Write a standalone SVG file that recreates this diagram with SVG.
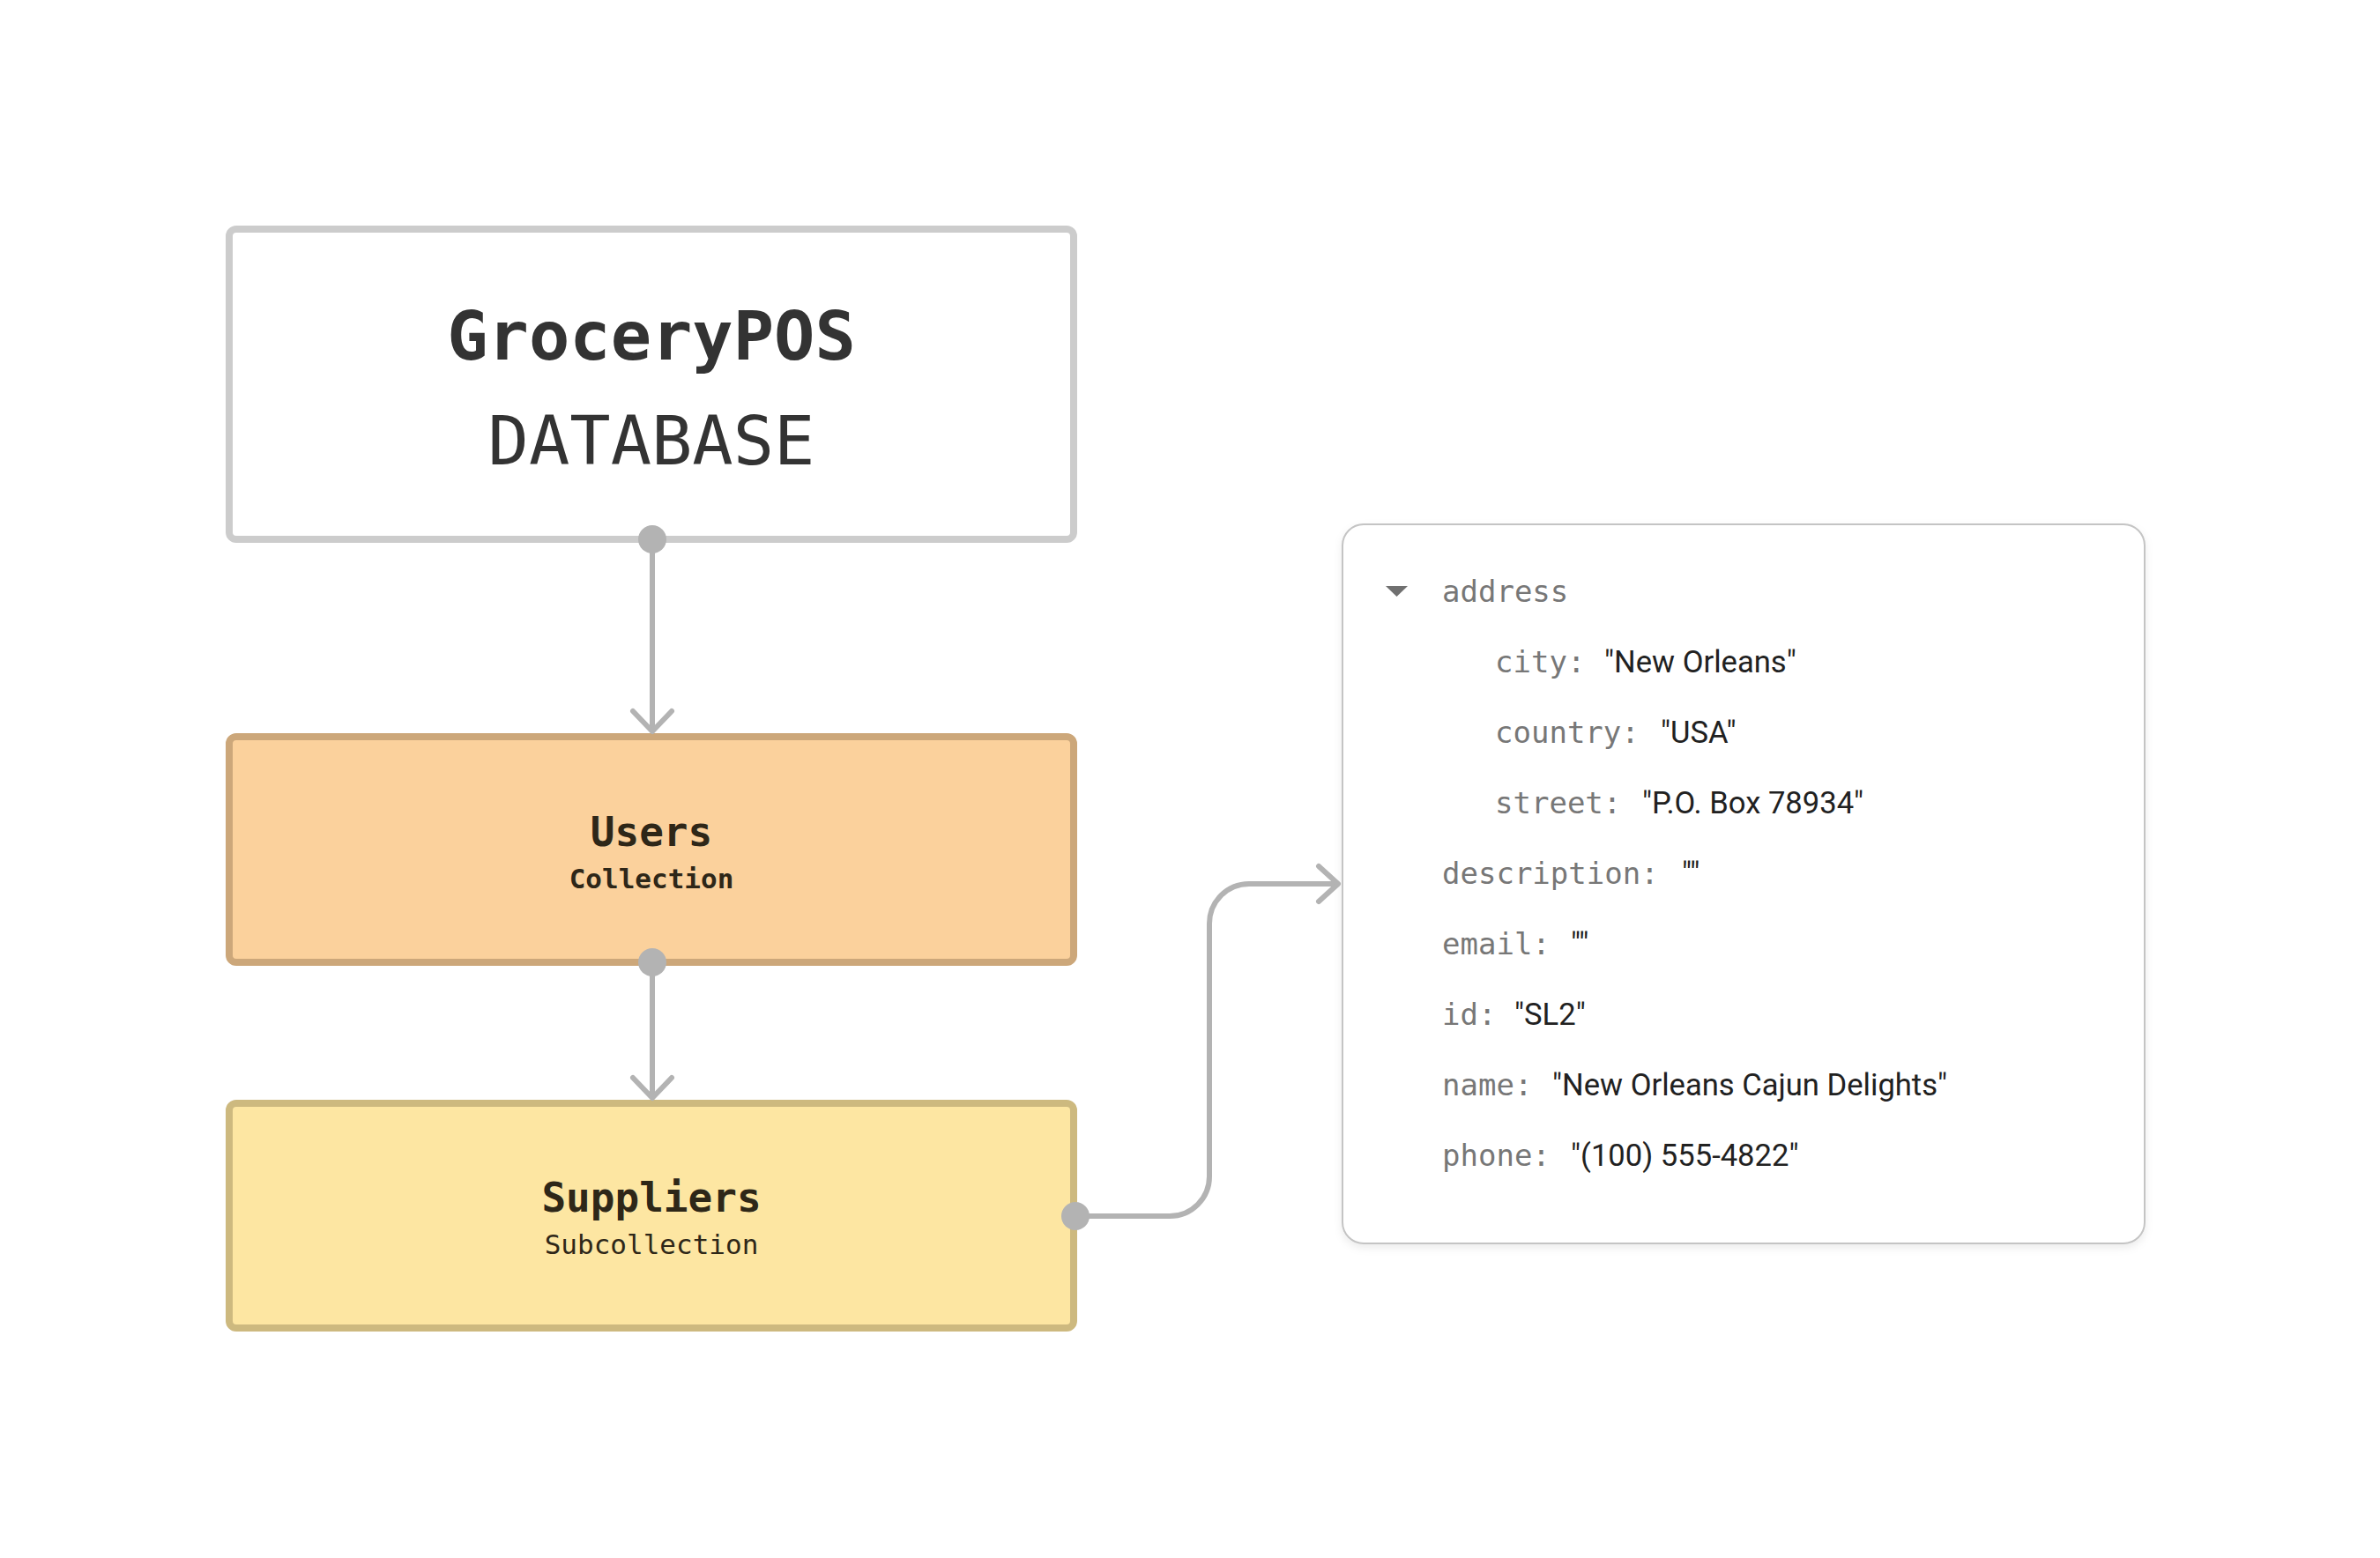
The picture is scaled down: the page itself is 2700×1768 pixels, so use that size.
<svg xmlns="http://www.w3.org/2000/svg" width="2700" height="1768" viewBox="0 0 2700 1768">
  <defs>
    <style>
      .mono { font-family: "DejaVu Sans Mono", "Liberation Mono", monospace; }
      .title { font-size: 77px; font-weight: bold; fill: #333333; }
      .subtitle { font-size: 77px; font-weight: normal; fill: #333333; }
      .nodeName { font-size: 46px; font-weight: bold; fill: #2e2718; }
      .nodeType { font-size: 31px; fill: #2e2718; }
      .key { font-size: 34px; fill: #777777; }
      .val { font-family: Roboto, "Liberation Sans", sans-serif; font-size: 34.6px; fill: #212121; }
      .conn { fill: none; stroke: #b3b3b3; stroke-width: 6; stroke-linecap: round; stroke-linejoin: round; }
      .dot { fill: #b3b3b3; }
    </style>
    <filter id="shadow" x="-5%" y="-5%" width="110%" height="110%">
      <feDropShadow dx="0" dy="4" stdDeviation="5" flood-color="#000000" flood-opacity="0.08"/>
    </filter>
  </defs>
  <rect x="0" y="0" width="2700" height="1768" fill="#ffffff"/>

  <g id="node-grocerypos">
    <rect x="260" y="260" width="958" height="352" rx="8" fill="#ffffff" stroke="#cccccc" stroke-width="8"/>
    <text class="mono title" x="739" y="408" text-anchor="middle">GroceryPOS</text>
    <text class="mono subtitle" x="739" y="527" text-anchor="middle">DATABASE</text>
  </g>

  <g id="node-users">
    <rect x="260" y="836" width="958" height="256" rx="8" fill="#fbd19c" stroke="#cca77a" stroke-width="8"/>
    <text class="mono nodeName" x="739" y="960" text-anchor="middle">Users</text>
    <text class="mono nodeType" x="739" y="1008" text-anchor="middle" font-weight="bold">Collection</text>
  </g>

  <g id="node-suppliers">
    <rect x="260" y="1252" width="958" height="255" rx="8" fill="#fde6a2" stroke="#cdb97f" stroke-width="8"/>
    <text class="mono nodeName" x="739" y="1375" text-anchor="middle">Suppliers</text>
    <text class="mono nodeType" x="739" y="1423" text-anchor="middle">Subcollection</text>
  </g>

  <g id="node-supplier-doc">
    <rect x="1523" y="595" width="910" height="816" rx="24" fill="#ffffff" stroke="#c4c4c4" stroke-width="2" filter="url(#shadow)"/>
    <polygon points="1572,665 1597,665 1584.5,677" fill="#707070"/>
    <text class="mono key" x="1636" y="683">address</text>
    <text x="1696" y="763"><tspan class="mono key">city: </tspan><tspan class="val" x="1820">"New Orleans"</tspan></text>
    <text x="1696" y="843"><tspan class="mono key">country: </tspan><tspan class="val" x="1884">"USA"</tspan></text>
    <text x="1696" y="923"><tspan class="mono key">street: </tspan><tspan class="val" x="1863">"P.O. Box 78934"</tspan></text>
    <text x="1636" y="1003"><tspan class="mono key">description: </tspan><tspan class="val" x="1908">""</tspan></text>
    <text x="1636" y="1083"><tspan class="mono key">email: </tspan><tspan class="val" x="1782">""</tspan></text>
    <text x="1636" y="1163"><tspan class="mono key">id: </tspan><tspan class="val" x="1718">"SL2"</tspan></text>
    <text x="1636" y="1243"><tspan class="mono key">name: </tspan><tspan class="val" x="1761">"New Orleans Cajun Delights"</tspan></text>
    <text x="1636" y="1323"><tspan class="mono key">phone: </tspan><tspan class="val" x="1782">"(100) 555-4822"</tspan></text>
  </g>

  <g id="connectors">
    <path class="conn" d="M740,612 V828"/>
    <path class="conn" d="M718,807 L740,830 L762,807"/>
    <circle class="dot" cx="740" cy="612" r="16"/>

    <path class="conn" d="M740,1092 V1244"/>
    <path class="conn" d="M718,1223 L740,1246 L762,1223"/>
    <circle class="dot" cx="740" cy="1092" r="16"/>

    <path class="conn" d="M1220,1380 H1327 A45,45 0 0 0 1372,1335 V1048 A45,45 0 0 1 1417,1003 H1516"/>
    <path class="conn" d="M1496,983 L1518,1003 L1496,1023"/>
    <circle class="dot" cx="1220" cy="1380" r="16"/>
  </g>
</svg>
